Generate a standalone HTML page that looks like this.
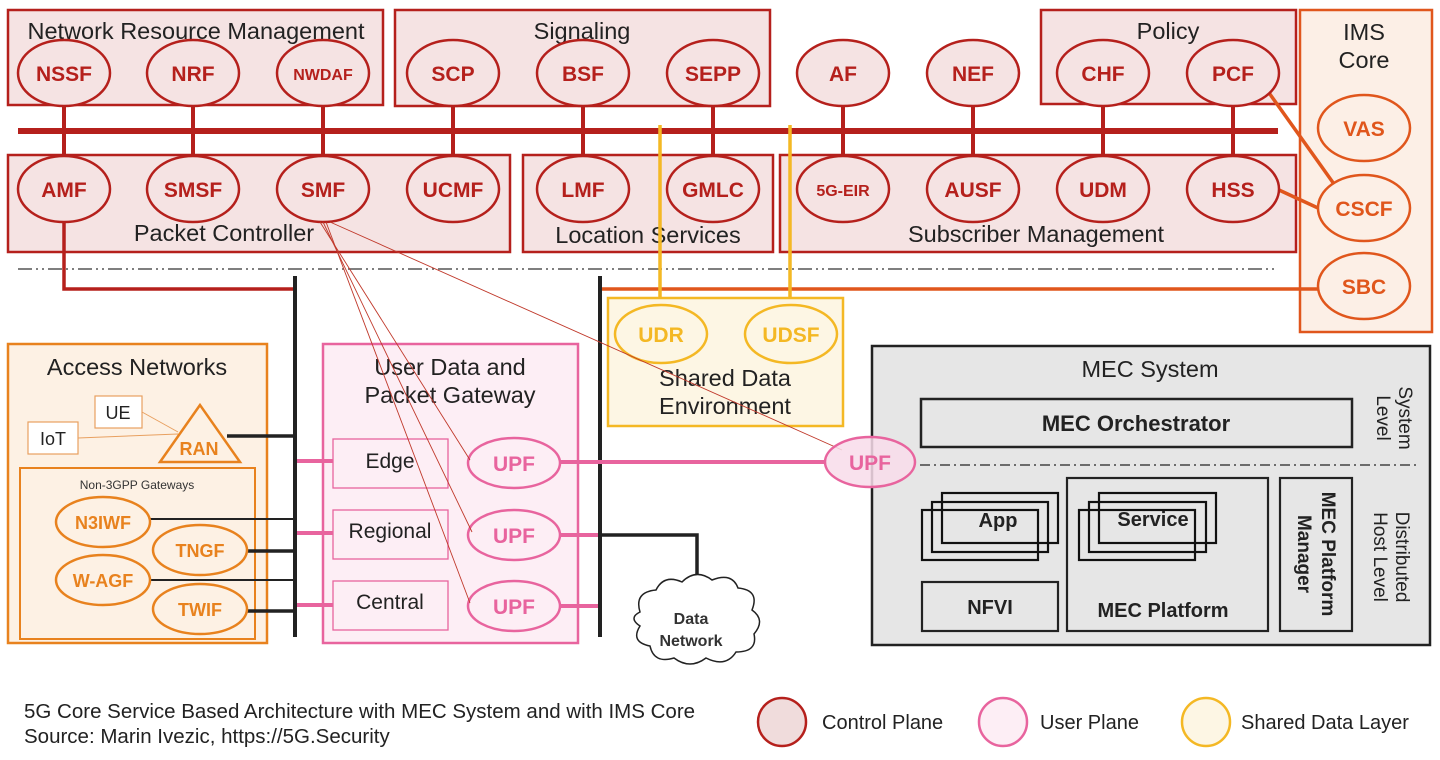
<!DOCTYPE html>
<html><head><meta charset="utf-8"><style>body{margin:0;background:#fff}svg{display:block}text{font-family:"Liberation Sans",sans-serif}</style></head>
<body>
<svg width="1440" height="760" viewBox="0 0 1440 760" xmlns="http://www.w3.org/2000/svg">
<defs>
<style>
.rb{fill:#f5e3e3;stroke:#b5201c;stroke-width:2.5}
.re{fill:#f5e3e3;stroke:#b5201c;stroke-width:2.5}
.rt{fill:#b5201c;font-weight:bold;font-size:21px;text-anchor:middle}
.tt{fill:#222;font-size:23.5px;text-anchor:middle}
.oe{fill:#fdf1e4;stroke:#e8821e;stroke-width:2.5}
.ot{fill:#e8821e;font-weight:bold;font-size:20px;text-anchor:middle}
.ie{fill:#fcefe6;stroke:#e0561c;stroke-width:2.5}
.it{fill:#e0561c;font-weight:bold;font-size:21px;text-anchor:middle}
.pe{fill:#fdeef5;stroke:#e8649e;stroke-width:2.5}
.pt{fill:#e8649e;font-weight:bold;font-size:21px;text-anchor:middle}
.ye{fill:#fdf6e4;stroke:#f4b824;stroke-width:2.5}
.yt{fill:#f4b824;font-weight:bold;font-size:21px;text-anchor:middle}
</style>
</defs>

<rect class="rb" x="8" y="10" width="375" height="95"/>
<text class="tt" x="196" y="39">Network Resource Management</text>
<rect class="rb" x="395" y="10" width="375" height="96"/>
<text class="tt" x="582" y="39">Signaling</text>
<rect class="rb" x="1041" y="10" width="255" height="94"/>
<text class="tt" x="1168" y="39">Policy</text>
<rect x="1300" y="10" width="132" height="322" fill="#fcefe6" stroke="#e0561c" stroke-width="2.5"/>
<text class="tt" x="1364" y="40">IMS</text>
<text class="tt" x="1364" y="68">Core</text>

<rect class="rb" x="8" y="155" width="502" height="97"/>
<text class="tt" x="224" y="241">Packet Controller</text>
<rect class="rb" x="523" y="155" width="250" height="97"/>
<text class="tt" x="648" y="243">Location Services</text>
<rect class="rb" x="780" y="155" width="516" height="97"/>
<text class="tt" x="1036" y="242">Subscriber Management</text>

<g stroke="#b5201c" stroke-width="4">
<line x1="64" y1="100" x2="64" y2="160"/><line x1="193" y1="100" x2="193" y2="160"/><line x1="323" y1="100" x2="323" y2="160"/>
<line x1="453" y1="100" x2="453" y2="160"/><line x1="583" y1="100" x2="583" y2="160"/><line x1="713" y1="100" x2="713" y2="160"/>
<line x1="843" y1="100" x2="843" y2="160"/><line x1="973" y1="100" x2="973" y2="160"/><line x1="1103" y1="100" x2="1103" y2="160"/><line x1="1233" y1="100" x2="1233" y2="160"/>
</g>
<line x1="18" y1="131" x2="1278" y2="131" stroke="#b5201c" stroke-width="6"/>

<line x1="18" y1="269" x2="1278" y2="269" stroke="#555" stroke-width="1.5" stroke-dasharray="14,4,2,4,2,4"/>

<polyline points="64,222 64,289 295,289" fill="none" stroke="#b5201c" stroke-width="3.5"/>
<line x1="600" y1="289" x2="1318" y2="289" stroke="#e0561c" stroke-width="3.5"/>
<line x1="660" y1="125" x2="660" y2="305" stroke="#f4b824" stroke-width="3.5"/>
<line x1="790" y1="125" x2="790" y2="305" stroke="#f4b824" stroke-width="3.5"/>
<line x1="1267" y1="90" x2="1334" y2="184" stroke="#e0561c" stroke-width="3.5"/>
<line x1="1279" y1="190" x2="1318" y2="208" stroke="#e0561c" stroke-width="3.5"/>

<g>
<ellipse class="re" cx="64" cy="73" rx="46" ry="33"/><text class="rt" x="64" y="81">NSSF</text>
<ellipse class="re" cx="193" cy="73" rx="46" ry="33"/><text class="rt" x="193" y="81">NRF</text>
<ellipse class="re" cx="323" cy="73" rx="46" ry="33"/><text class="rt" x="323" y="80" style="font-size:16px">NWDAF</text>
<ellipse class="re" cx="453" cy="73" rx="46" ry="33"/><text class="rt" x="453" y="81">SCP</text>
<ellipse class="re" cx="583" cy="73" rx="46" ry="33"/><text class="rt" x="583" y="81">BSF</text>
<ellipse class="re" cx="713" cy="73" rx="46" ry="33"/><text class="rt" x="713" y="81">SEPP</text>
<ellipse class="re" cx="843" cy="73" rx="46" ry="33"/><text class="rt" x="843" y="81">AF</text>
<ellipse class="re" cx="973" cy="73" rx="46" ry="33"/><text class="rt" x="973" y="81">NEF</text>
<ellipse class="re" cx="1103" cy="73" rx="46" ry="33"/><text class="rt" x="1103" y="81">CHF</text>
<ellipse class="re" cx="1233" cy="73" rx="46" ry="33"/><text class="rt" x="1233" y="81">PCF</text>

<ellipse class="re" cx="64" cy="189" rx="46" ry="33"/><text class="rt" x="64" y="197">AMF</text>
<ellipse class="re" cx="193" cy="189" rx="46" ry="33"/><text class="rt" x="193" y="197">SMSF</text>
<ellipse class="re" cx="323" cy="189" rx="46" ry="33"/><text class="rt" x="323" y="197">SMF</text>
<ellipse class="re" cx="453" cy="189" rx="46" ry="33"/><text class="rt" x="453" y="197">UCMF</text>
<ellipse class="re" cx="583" cy="189" rx="46" ry="33"/><text class="rt" x="583" y="197">LMF</text>
<ellipse class="re" cx="713" cy="189" rx="46" ry="33"/><text class="rt" x="713" y="197">GMLC</text>
<ellipse class="re" cx="843" cy="189" rx="46" ry="33"/><text class="rt" x="843" y="196" style="font-size:16px">5G-EIR</text>
<ellipse class="re" cx="973" cy="189" rx="46" ry="33"/><text class="rt" x="973" y="197">AUSF</text>
<ellipse class="re" cx="1103" cy="189" rx="46" ry="33"/><text class="rt" x="1103" y="197">UDM</text>
<ellipse class="re" cx="1233" cy="189" rx="46" ry="33"/><text class="rt" x="1233" y="197">HSS</text>

<ellipse class="ie" cx="1364" cy="128" rx="46" ry="33"/><text class="it" x="1364" y="136">VAS</text>
<ellipse class="ie" cx="1364" cy="208" rx="46" ry="33"/><text class="it" x="1364" y="216">CSCF</text>
<ellipse class="ie" cx="1364" cy="286" rx="46" ry="33"/><text class="it" x="1364" y="294">SBC</text>
</g>

<rect x="608" y="298" width="235" height="128" fill="#fdf6e4" stroke="#f4b824" stroke-width="2.5"/>
<ellipse class="ye" cx="661" cy="334" rx="46" ry="29"/><text class="yt" x="661" y="342">UDR</text>
<ellipse class="ye" cx="791" cy="334" rx="46" ry="29"/><text class="yt" x="791" y="342">UDSF</text>
<text class="tt" x="725" y="386">Shared Data</text>
<text class="tt" x="725" y="414">Environment</text>

<rect x="8" y="344" width="259" height="299" fill="#fdf1e4" stroke="#e8821e" stroke-width="2.5"/>
<text class="tt" x="137" y="375">Access Networks</text>
<line x1="142" y1="412" x2="178" y2="432" stroke="#e8a060" stroke-width="1"/>
<line x1="78" y1="438" x2="178" y2="434" stroke="#e8a060" stroke-width="1"/>
<rect x="95" y="396" width="47" height="32" fill="#fff" stroke="#e8a060" stroke-width="1.2"/>
<text x="118" y="419" font-size="18" text-anchor="middle" fill="#222">UE</text>
<rect x="28" y="422" width="50" height="32" fill="#fff" stroke="#e8a060" stroke-width="1.2"/>
<text x="53" y="445" font-size="18" text-anchor="middle" fill="#222">IoT</text>
<polygon points="200,405 160,462 240,462" fill="#fdf1e4" stroke="#e8821e" stroke-width="2.5"/>
<text class="ot" x="199" y="455" style="font-size:18px">RAN</text>
<line x1="227" y1="436" x2="295" y2="436" stroke="#222" stroke-width="3.5"/>
<rect x="20" y="468" width="235" height="171" fill="#fdf1e4" stroke="#e8821e" stroke-width="2"/>
<text x="137" y="489" font-size="12" text-anchor="middle" fill="#333">Non-3GPP Gateways</text>
<line x1="150" y1="519" x2="295" y2="519" stroke="#222" stroke-width="2"/>
<line x1="247" y1="551" x2="295" y2="551" stroke="#222" stroke-width="3.5"/>
<line x1="150" y1="580" x2="295" y2="580" stroke="#222" stroke-width="2"/>
<line x1="247" y1="611" x2="295" y2="611" stroke="#222" stroke-width="3.5"/>
<ellipse class="oe" cx="103" cy="522" rx="47" ry="25"/><text class="ot" x="103" y="529" style="font-size:18px">N3IWF</text>
<ellipse class="oe" cx="200" cy="550" rx="47" ry="25"/><text class="ot" x="200" y="557" style="font-size:18px">TNGF</text>
<ellipse class="oe" cx="103" cy="580" rx="47" ry="25"/><text class="ot" x="103" y="587" style="font-size:18px">W-AGF</text>
<ellipse class="oe" cx="200" cy="609" rx="47" ry="25"/><text class="ot" x="200" y="616" style="font-size:18px">TWIF</text>

<line x1="295" y1="276" x2="295" y2="637" stroke="#222" stroke-width="4"/>
<line x1="600" y1="276" x2="600" y2="637" stroke="#222" stroke-width="4"/>

<rect x="323" y="344" width="255" height="299" fill="#fdeef5" stroke="#e8649e" stroke-width="2.5"/>
<text class="tt" x="450" y="375">User Data and</text>
<text class="tt" x="450" y="403">Packet Gateway</text>
<g fill="#fdeef5" stroke="#e8649e" stroke-width="1.3">
<rect x="333" y="439" width="115" height="49"/><rect x="333" y="510" width="115" height="49"/><rect x="333" y="581" width="115" height="49"/>
</g>
<text x="390" y="468" font-size="21" text-anchor="middle" fill="#222">Edge</text>
<text x="390" y="538" font-size="21" text-anchor="middle" fill="#222">Regional</text>
<text x="390" y="609" font-size="21" text-anchor="middle" fill="#222">Central</text>
<g stroke="#e8649e" stroke-width="4">
<line x1="297" y1="461" x2="333" y2="461"/><line x1="297" y1="533" x2="333" y2="533"/><line x1="297" y1="605" x2="333" y2="605"/>
<line x1="560" y1="462" x2="826" y2="462"/><line x1="560" y1="535" x2="598" y2="535"/><line x1="560" y1="606" x2="598" y2="606"/>
</g>
<polyline points="602,535 697,535 697,592" fill="none" stroke="#222" stroke-width="3.5"/>
<ellipse class="pe" cx="514" cy="463" rx="46" ry="25"/><text class="pt" x="514" y="471">UPF</text>
<ellipse class="pe" cx="514" cy="535" rx="46" ry="25"/><text class="pt" x="514" y="543">UPF</text>
<ellipse class="pe" cx="514" cy="606" rx="46" ry="25"/><text class="pt" x="514" y="614">UPF</text>

<path d="M640,612 q-6,-20 16,-22 q8,-16 26,-8 q14,-14 30,-2 q20,-8 26,8 q22,2 14,22 q14,10 2,24 q4,18 -18,18 q-10,16 -30,6 q-16,12 -32,0 q-20,6 -24,-12 q-20,-4 -10,-20 q-12,-8 0,-14z" fill="#fff" stroke="#222" stroke-width="1.5"/>
<text x="691" y="624" font-size="16" font-weight="bold" text-anchor="middle" fill="#333">Data</text>
<text x="691" y="646" font-size="16" font-weight="bold" text-anchor="middle" fill="#333">Network</text>

<rect x="872" y="346" width="558" height="299" fill="#e6e6e6" stroke="#222" stroke-width="2.5"/>
<text class="tt" x="1150" y="377">MEC System</text>
<rect x="921" y="399" width="431" height="48" fill="#e6e6e6" stroke="#222" stroke-width="2.5"/>
<text x="1136" y="431" font-size="22" font-weight="bold" text-anchor="middle" fill="#222">MEC Orchestrator</text>
<line x1="920" y1="465" x2="1418" y2="465" stroke="#444" stroke-width="1.5" stroke-dasharray="10,4,2,4"/>
<g fill="none" stroke="#111" stroke-width="2.2">
<rect x="942" y="493" width="116" height="50"/><rect x="932" y="502" width="116" height="50"/><rect x="922" y="510" width="116" height="50"/>
<rect x="1099" y="493" width="117" height="50"/><rect x="1089" y="502" width="117" height="50"/><rect x="1079" y="510" width="116" height="50"/>
</g>
<text x="998" y="527" font-size="20" font-weight="bold" text-anchor="middle" fill="#222">App</text>
<text x="1153" y="526" font-size="20" font-weight="bold" text-anchor="middle" fill="#222">Service</text>
<rect x="922" y="582" width="136" height="49" fill="none" stroke="#222" stroke-width="2.2"/>
<text x="990" y="614" font-size="20" font-weight="bold" text-anchor="middle" fill="#222">NFVI</text>
<rect x="1067" y="478" width="201" height="153" fill="none" stroke="#222" stroke-width="2.2"/>
<text x="1163" y="617" font-size="20" font-weight="bold" text-anchor="middle" fill="#222">MEC Platform</text>
<rect x="1280" y="478" width="72" height="153" fill="none" stroke="#222" stroke-width="2.2"/>
<text transform="translate(1318,554) rotate(90)" font-size="19" font-weight="bold" text-anchor="middle" fill="#222"><tspan x="0" y="-4">MEC Platform</tspan><tspan x="0" y="20">Manager</tspan></text>
<text transform="translate(1395,418) rotate(90)" font-size="19" text-anchor="middle" fill="#222"><tspan x="0" y="-4">System</tspan><tspan x="0" y="18">Level</tspan></text>
<text transform="translate(1392,557) rotate(90)" font-size="19" text-anchor="middle" fill="#222"><tspan x="0" y="-4">Distributed</tspan><tspan x="0" y="18">Host Level</tspan></text>

<g stroke="#c0392b" stroke-width="0.9" fill="none">
<line x1="320" y1="222" x2="470" y2="460"/>
<line x1="323" y1="222" x2="472" y2="532"/>
<line x1="326" y1="222" x2="470" y2="603"/>
<line x1="330" y1="222" x2="842" y2="450"/>
</g>
<ellipse class="pe" cx="870" cy="462" rx="45" ry="25" style="fill:#f8dcea;fill-opacity:0.85"/><text class="pt" x="870" y="470">UPF</text>

<text x="24" y="718" font-size="20.5" fill="#222">5G Core Service Based Architecture with MEC System and with IMS Core</text>
<text x="24" y="743" font-size="20.5" fill="#222">Source: Marin Ivezic, https://5G.Security</text>
<circle cx="782" cy="722" r="24" fill="#f0dcdc" stroke="#b5201c" stroke-width="2.5"/>
<text x="822" y="729" font-size="20" fill="#222">Control Plane</text>
<circle cx="1003" cy="722" r="24" fill="#fdeef5" stroke="#e8649e" stroke-width="2.5"/>
<text x="1040" y="729" font-size="20" fill="#222">User Plane</text>
<circle cx="1206" cy="722" r="24" fill="#fdf6e4" stroke="#f4b824" stroke-width="2.5"/>
<text x="1241" y="729" font-size="20" fill="#222">Shared Data Layer</text>
</svg>
</body></html>
